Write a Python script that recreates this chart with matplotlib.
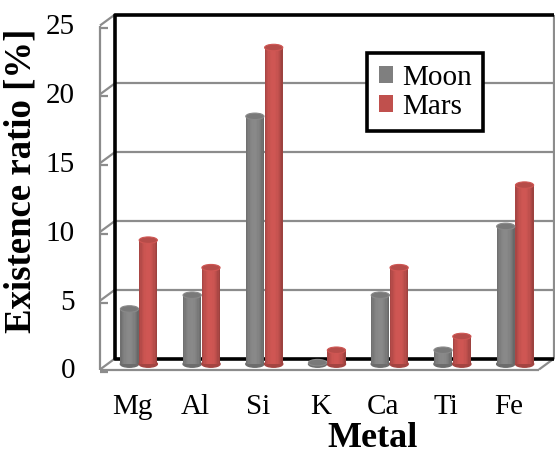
import matplotlib
matplotlib.use('Agg')
from matplotlib import pyplot as plt
from matplotlib.patches import Ellipse, Patch
import matplotlib.colors as mcolors
import numpy as np

# data
metals = ['Mg', 'Al', 'Si', 'K', 'Ca', 'Ti', 'Fe']
moon = [4, 5, 18, 0.1, 5, 1, 10]
mars = [9, 7, 23, 1, 7, 2, 13]
yticks = [0, 5, 10, 15, 20, 25]
series_names = ['Moon', 'Mars']
series_colors = ['#7f7f7f', '#c0504d']

plt.rcParams['font.family'] = ['Liberation Serif', 'DejaVu Serif']

W, H = 555, 457
fig = plt.figure(figsize=(W / 100, H / 100), dpi=100)

# the axes is the middle plane of the 3D box, where the cylinders stand
L, R, T, B = 107.5, 546.5, 20, 364
ax = fig.add_axes([L / W, 1 - B / H, (R - L) / W, (B - T) / H])
ax.set_xlim(-0.5, 6.5)
ax.set_ylim(0, 25)
ax.axis('off')

# half depth of the box, in data units
dx = 7.5 / ((R - L) / 7)
dy = 5.5 / ((B - T) / 25)
x0, x1 = -0.5, 6.5
grid_c = '#8c8c8c'


def line(xs, ys, **kw):
    kw.setdefault('color', grid_c)
    kw.setdefault('lw', 1.6)
    ax.plot(xs, ys, clip_on=False, solid_capstyle='butt', **kw)


#############
# THE WALLS #
#############
for v in yticks[1:-1]:
    line([x0 + dx, x1 + dx], [v + dy, v + dy], zorder=1)
for v in yticks:
    line([x0 - dx, x0 + dx], [v - dy, v + dy], zorder=1)
    line([x0 - dx, x0 - dx + 0.13], [v - dy - 0.15, v - dy - 0.15], zorder=1)
line([x0 - dx, x0 - dx], [-dy, 25 - dy], zorder=1)
line([x1 + dx, x1 + dx], [dy, 25 + dy], zorder=1)
line([x1 + dx, x0 + dx, x0 + dx, x1 + dx], [25 + dy, 25 + dy, dy, dy],
     color='black', lw=2.6, zorder=2)
# floor front edges
line([x0 - dx, x1 - dx], [-dy, -dy], zorder=1)
line([x1 + dx, x1 - dx], [dy, -dy], zorder=1)


#############
# CYLINDERS #
#############
wb = 0.29
eh = 0.47
n = 14
t = (np.arange(n) + 0.5) / n
shade = 0.66 + 0.42 * np.sin(np.pi * (0.1 + 0.85 * t)) ** 0.7


def cylinder(xc, v, base):
    rgb = np.array(mcolors.to_rgb(base))
    sw = wb / n
    ax.add_patch(Ellipse((xc, 0), wb, eh, color=rgb * 0.85, zorder=3, clip_on=False))
    for k in range(n):
        c = np.clip(rgb * shade[k], 0, 1)
        ax.bar(xc - wb / 2 + sw * (k + 0.5), v, width=sw * 1.05, bottom=0,
               color=c, lw=0, zorder=3, clip_on=False)
    ax.add_patch(Ellipse((xc, v), wb, eh, facecolor=np.clip(rgb * 0.95, 0, 1),
                         edgecolor=np.clip(rgb * 1.08, 0, 1), lw=0.8, zorder=4, clip_on=False))


for i in range(len(metals)):
    cylinder(i - 0.15, moon[i], series_colors[0])
    cylinder(i + 0.15, mars[i], series_colors[1])

##########
# LABELS #
##########
for v in yticks:
    ax.text(x0 - 0.52, v - 1.05, str(v), ha='right', va='baseline', fontsize=21)
for i, m in enumerate(metals):
    ax.text(i - 0.1, -3.63, m, ha='center', va='baseline', fontsize=21)

ax.text(-1.88, 13.3, 'Existence ratio [%]', rotation=90, ha='center', va='center',
        fontsize=26.5, fontweight='bold')
ax.text(3.73, -6.0, 'Metal', ha='center', va='baseline', fontsize=26, fontweight='bold')

handles = [Patch(facecolor=c, edgecolor='none', label=s)
           for s, c in zip(series_names, series_colors)]
leg = ax.legend(handles=handles, loc='upper left', bbox_to_anchor=(367 / W, 1 - 53 / H),
                bbox_transform=fig.transFigure, borderaxespad=0, fontsize=21,
                fancybox=False, edgecolor='black', framealpha=1,
                handlelength=0.5, handleheight=0.5, handletextpad=0.3,
                labelspacing=0.1, borderpad=0.4)
leg.get_frame().set_linewidth(2.6)
leg.set_zorder(5)

fig.savefig('out.png', dpi=100)
